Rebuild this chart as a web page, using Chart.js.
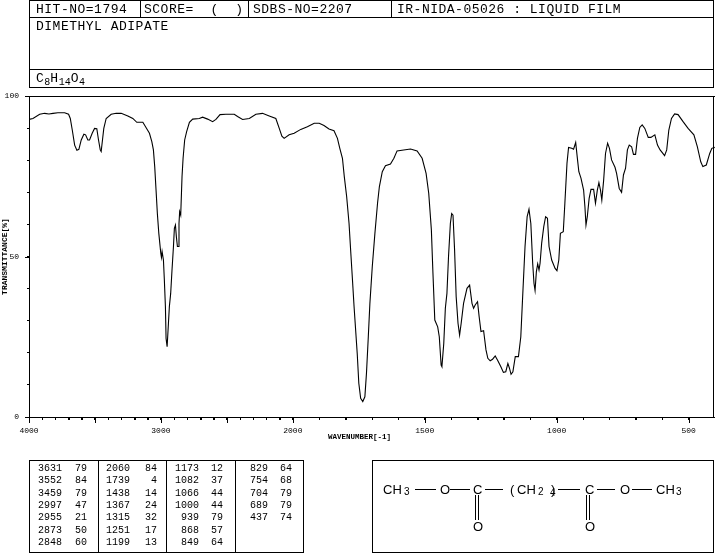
<!DOCTYPE html>
<html>
<head>
<meta charset="utf-8">
<script src="https://cdn.jsdelivr.net/npm/chart.js@4"></script>
<style>
html,body{margin:0;padding:0;background:#fff;}
#page{position:relative;width:715px;height:553px;overflow:hidden;background:#fff;color:#000;}
#page canvas{position:absolute;left:0;top:0;}
.ln{position:absolute;background:#000;}
.mono{position:absolute;font-family:"Liberation Mono",monospace;white-space:pre;line-height:1;}
.head{font-size:13px;letter-spacing:.5px;}
.cell{font-size:10px;text-align:right;}
.sans{position:absolute;font-family:"Liberation Sans",sans-serif;font-size:13px;white-space:pre;line-height:1;}
.sub{font-size:10px;}
</style>
</head>
<body>
<div id="page"><canvas id="c" width="715" height="553"></canvas></div>
<script>
const wavenumbers = [4000,3970,3919,3881,3849,3818,3781,3730,3700,3687,3672,3654,3637,3622,3604,3584,3571,3554,3541,3521,3503,3486,3473,3460,3453,3443,3433,3415,3377,3339,3301,3251,3213,3183,3137,3112,3087,3069,3057,3047,3037,3027,3016,3001,2996,2991,2981,2974,2966,2961,2953,2943,2936,2926,2916,2905,2898,2890,2883,2875,2868,2863,2858,2850,2840,2832,2820,2805,2784,2759,2709,2684,2646,2608,2583,2552,2507,2444,2419,2381,2330,2280,2230,2179,2129,2103,2083,2066,2028,1995,1970,1945,1919,1900,1882,1863,1844,1831,1822,1812,1805,1796,1787,1781,1774,1768,1756,1750,1743,1735,1727,1721,1714,1708,1699,1689,1679,1672,1661,1649,1630,1617,1605,1580,1554,1529,1510,1495,1485,1475,1469,1462,1451,1445,1438,1435,1428,1422,1416,1410,1403,1398,1393,1387,1381,1374,1368,1362,1353,1340,1330,1321,1315,1309,1300,1294,1287,1277,1268,1261,1252,1243,1233,1223,1212,1202,1193,1185,1179,1173,1166,1157,1145,1136,1129,1120,1112,1105,1098,1091,1086,1082,1077,1072,1067,1063,1057,1049,1042,1035,1029,1019,1006,999,992,986,975,969,961,955,943,936,928,921,916,908,898,893,889,884,877,870,860,853,846,840,834,829,822,815,807,800,792,779,773,763,754,747,739,732,725,716,709,701,694,685,676,666,653,643,628,618,608,591,583,575,565,553,540,521,502,480,467,454,446,433,420,412,401];
const transmittance = [92.7,93.0,94.3,94.6,94.4,94.6,94.8,94.8,94.3,93.0,89.4,84.7,83.1,83.4,86.3,88.1,87.9,86.3,86.3,88.4,89.9,89.8,86.3,83.2,82.7,86.3,89.9,93.0,94.3,94.6,94.6,93.8,93.0,91.8,91.8,90.1,88.4,85.8,83.2,78.0,70.7,63.4,57.2,51.0,49.7,51.5,48.9,42.7,34.4,24.5,21.9,29.2,34.4,38.5,45.8,53.1,58.8,59.8,56.2,53.1,53.1,60.3,64.0,62.9,74.9,80.6,86.3,88.9,91.8,92.8,93.0,93.4,92.8,92.0,92.7,94.2,94.3,94.3,93.6,92.7,93.0,94.3,94.6,93.8,93.0,89.9,87.5,86.8,87.9,88.4,89.6,90.4,91.5,91.5,90.8,89.7,89.2,86.8,83.7,80.6,74.9,68.6,60.3,52.0,42.7,34.4,19.8,10.5,5.8,4.8,6.3,13.6,25.0,35.4,46.8,57.2,66.6,71.8,76.4,78.3,78.8,80.6,82.9,83.2,83.5,82.9,80.6,75.9,69.7,58.3,44.8,30.2,28.1,25.0,16.2,15.7,22.9,33.9,38.5,49.9,60.3,63.4,62.9,52.0,37.5,29.2,25.5,29.2,35.4,40.1,41.1,35.4,33.9,34.9,35.9,31.3,26.6,26.9,20.9,18.3,17.5,18.0,19.0,17.5,15.7,13.9,14.1,16.7,15.2,13.3,14.1,18.8,18.8,25.0,37.5,53.1,62.4,64.7,60.3,47.9,41.6,39.4,45.3,47.7,45.8,47.9,54.1,59.3,62.4,61.9,53.1,48.9,46.3,45.6,48.9,57.2,57.7,66.6,79.0,84.0,83.7,83.4,85.5,80.1,76.4,74.4,70.7,65.5,59.8,62.4,68.1,70.9,70.9,66.6,70.7,73.0,70.7,67.6,73.8,82.1,85.3,83.7,80.1,77.8,75.9,71.2,70.0,75.4,77.5,83.2,84.7,84.2,81.8,81.8,86.8,90.2,91.0,89.9,87.1,87.1,87.9,84.7,83.2,81.4,83.2,89.4,93.0,94.4,94.2,92.0,89.9,87.9,84.2,79.5,78.0,78.5,82.1,83.7,84.0];

const xTickLabels = [4000,3000,2000,1500,1000,500];
const yTickLabels = [0,50,100];
const yTitle = "TRANSMITTANCE[%]";
const xTitle = "WAVENUMBER[-1]";

const peakWavenumbers = [
  ["3631","3552","3459","2997","2955","2873","2848"],
  ["2060","1739","1438","1367","1315","1251","1199"],
  ["1173","1082","1066","1000","939","868","849"],
  ["829","754","704","689","437"]
];
const peakValues = [
  ["79","84","79","47","21","50","60"],
  ["84","4","14","24","32","17","13"],
  ["12","37","44","44","79","57","64"],
  ["64","68","79","79","74"]
];

// The spectrometer's axis doubles its scale below 2000 cm-1.
const foldX = wn => wn >= 2000 ? 4000 - wn : 2000 + (2000 - wn) * 2;
const unfoldX = u => u <= 2000 ? 4000 - u : 2000 - (u - 2000) / 2;

const page = document.getElementById('page');
function line(x, y, w, h){
  const d = document.createElement('div');
  d.className = 'ln';
  d.style.cssText = `left:${x}px;top:${y}px;width:${w}px;height:${h}px`;
  page.appendChild(d);
}
function text(cls, x, y, html, extra){
  const d = document.createElement('div');
  d.className = cls;
  d.style.cssText = `left:${x}px;top:${y}px;` + (extra || '');
  d.innerHTML = html;
  page.appendChild(d);
}

// header block
line(29,0,685,1); line(29,17,685,1); line(29,69,685,1); line(29,87,685,1);
line(29,0,1,88); line(713,0,1,88);
line(140,0,1,18); line(248,0,1,18); line(391,0,1,18);
text('mono head',36,3,'HIT-NO=1794');
text('mono head',144,3,'SCORE=  (  )');
text('mono head',253,3,'SDBS-NO=2207');
text('mono head',397,3,'IR-NIDA-05026 : LIQUID FILM');
text('mono head',36,20,'DIMETHYL ADIPATE');
text('mono head',36,72,'C<span style="font-size:10px;letter-spacing:0;position:relative;top:3px">8</span>H<span style="font-size:10px;letter-spacing:0;position:relative;top:3px">14</span>O<span style="font-size:10px;letter-spacing:0;position:relative;top:3px">4</span>');

// peak table
line(29,460,275,1); line(29,552,275,1); line(29,460,1,93); line(303,460,1,93);
line(98,460,1,93); line(166,460,1,93); line(235,460,1,93);
const numRight = [62,130,199,268], valRight = [87,157,223,292];
const rowTop = [464,476,489,501,513,526,538];
peakWavenumbers.forEach((col,c)=>col.forEach((s,r)=>{
  text('mono cell',numRight[c]-40,rowTop[r],s,'width:40px;');
  text('mono cell',valRight[c]-30,rowTop[r],peakValues[c][r],'width:30px;');
}));

// structure box
line(372,460,342,1); line(372,552,342,1); line(372,460,1,93); line(713,460,1,93);
const baseY = 483;
[[383,'CH'],[440,'O'],[473,'C'],[510,'('],[517,'CH'],[551,')'],[585,'C'],[620,'O'],[656,'CH']].forEach(a=>text('sans',a[0],baseY,a[1]));
[[404,'3'],[538,'2'],[676,'3']].forEach(a=>text('sans sub',a[0],baseY+4,a[1]));
text('sans sub',550,baseY+5,'4');
text('sans',473,520,'O'); text('sans',585,520,'O');
line(415,489,21,1); line(450,489,20,1); line(485,489,18,1);
line(558,489,22,1); line(597,489,18,1); line(632,489,20,1);
line(475,495,1,25); line(478,495,1,25); line(586,495,1,25); line(589,495,1,25);

const xTicks = [];
for (let wn = 4000; wn >= 400; wn -= 100) xTicks.push(foldX(wn));

const frame = {
  id:'frame',
  afterDatasetsDraw(chart){
    const {ctx, chartArea:a, scales:{x,y}} = chart;
    ctx.save();
    ctx.strokeStyle='#000'; ctx.lineWidth=1;
    ctx.beginPath();
    ctx.moveTo(25,96.5); ctx.lineTo(a.right,96.5);
    ctx.moveTo(a.right-1.5,96); ctx.lineTo(a.right-1.5,a.bottom);
    yTickLabels.forEach(v=>{const p=Math.round(y.getPixelForValue(v))+.5;ctx.moveTo(25,p);ctx.lineTo(a.left,p);});
    xTicks.forEach(v=>{
      const wn=Math.round(unfoldX(v));
      const p=Math.round(x.getPixelForValue(v))+.5;
      ctx.moveTo(p,a.bottom);ctx.lineTo(p,a.bottom+(wn%500===0?6:3));
    });
    ctx.stroke();
    ctx.fillStyle='#000';
    ctx.font='bold 7.5px "Liberation Mono"';
    ctx.textAlign='left'; ctx.textBaseline='middle';
    ctx.fillText(xTitle,328,437);
    ctx.restore();
  }
};

new Chart(document.getElementById('c'),{
  type:'line',
  data:{datasets:[{
    data:wavenumbers.map((wn,i)=>({x:foldX(wn),y:transmittance[i]})),
    borderColor:'#000',borderWidth:1.1,pointRadius:0,tension:0,fill:false
  }]},
  plugins:[frame],
  options:{
    responsive:false,animation:false,
    layout:{padding:{top:96,left:0,right:0,bottom:0}},
    plugins:{legend:{display:false},title:{display:false},tooltip:{enabled:false}},
    scales:{
      x:{
        type:'linear',min:0,max:5200,
        afterBuildTicks(s){s.ticks=xTicks.map(v=>({value:v}));},
        afterFit(s){s.height=136;s.paddingLeft=0;s.paddingRight=0;},
        grid:{drawOnChartArea:false,tickLength:3,color:'#000',tickColor:'#000'},
        border:{color:'#000',width:1},
        ticks:{
          autoSkip:false,maxRotation:0,minRotation:0,padding:6,color:'#000',
          font:{family:'"Liberation Mono"',size:8},
          callback(v){const wn=Math.round(unfoldX(v));return xTickLabels.includes(wn)?String(wn):'';}
        }
      },
      y:{
        min:0,max:100,
        afterFit(s){s.width=29;s.paddingTop=0;s.paddingBottom=0;},
        grid:{drawOnChartArea:false,tickLength:2,color:'#000',tickColor:'#000'},
        border:{color:'#000',width:1},
        title:{display:true,text:yTitle,color:'#000',padding:{top:0,bottom:0},font:{family:'"Liberation Mono"',size:8,weight:'bold'}},
        ticks:{
          stepSize:10,autoSkip:false,padding:8,color:'#000',
          font:{family:'"Liberation Mono"',size:8},
          callback(v){return yTickLabels.includes(v)?String(v):'';}
        }
      }
    }
  }
});
</script>
</body>
</html>
